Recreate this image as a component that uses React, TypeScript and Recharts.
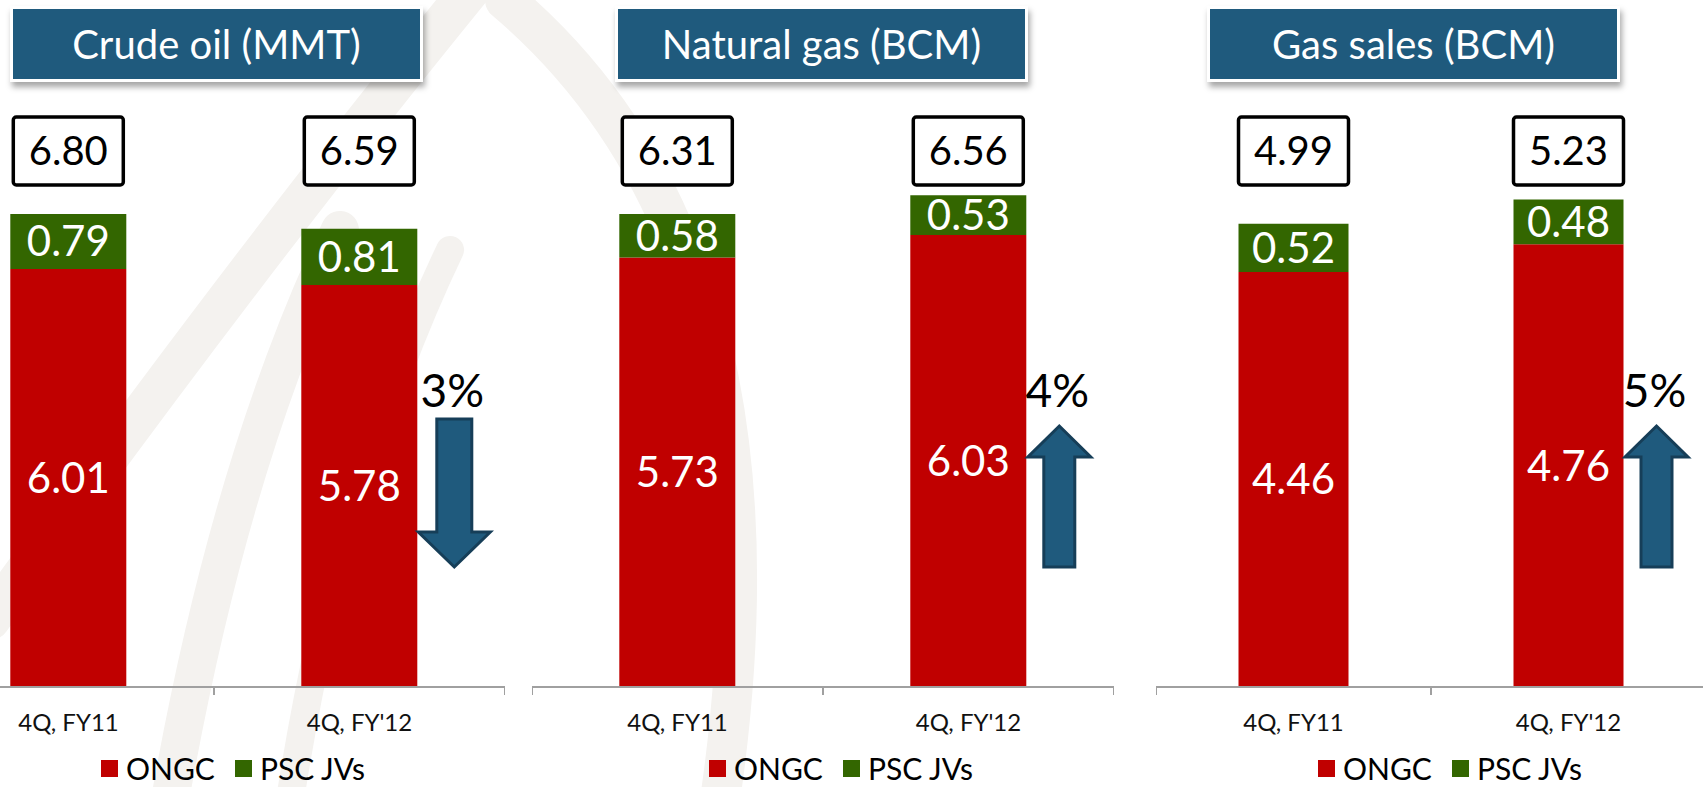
import { BarChart, Bar, XAxis, YAxis, LabelList } from 'recharts'

// ─── data ───────────────────────────────────────────────
const categories = ['4Q, FY11', "4Q, FY'12"]
const panelTitles = ['Crude oil (MMT)', 'Natural gas (BCM)', 'Gas sales (BCM)']
const ongcValues = [
  [6.01, 5.78],
  [5.73, 6.03],
  [4.46, 4.76],
]
const pscValues = [
  [0.79, 0.81],
  [0.58, 0.53],
  [0.52, 0.48],
]
const totalValues = [
  [6.8, 6.59],
  [6.31, 6.56],
  [4.99, 5.23],
]
const changeLabels = ['3%', '4%', '5%']
const changeDirections = ['down', 'up', 'up']
const yMax = [8.44, 7.83, 6.31]
const seriesNames = ['ONGC', 'PSC JVs']

// ─── layout / style ─────────────────────────────────────
const W = 1703
const H = 787
const CHART_TOP = 100
const XAXIS_H = 100
const AXIS_Y = H - XAXIS_H
const RED = '#C00000'
const GREEN = '#336600'
const BLUE = '#1F5A7D'
const FONT = 'Lato, "Open Sans", sans-serif'

const panels = [
  { left: -77, width: 582, titleLeft: 10, legendLeft: 101 },
  { left: 532, width: 582, titleLeft: 615, legendLeft: 709 },
  { left: 1156, width: 550, titleLeft: 1207, legendLeft: 1318 },
]

function BoundaryTick(props: any) {
  const { x, payload, index, band } = props
  const last = index === categories.length - 1
  return (
    <g>
      <line x1={x - band / 2} x2={x - band / 2} y1={AXIS_Y} y2={AXIS_Y + 8} stroke="#a0a0a0" strokeWidth={2} />
      {last && (
        <line x1={x + band / 2} x2={x + band / 2} y1={AXIS_Y} y2={AXIS_Y + 8} stroke="#a0a0a0" strokeWidth={2} />
      )}
      <text x={x} y={AXIS_Y + 44} textAnchor="middle" fontSize={24} fill="#111" fontFamily={FONT}>
        {payload.value}
      </text>
    </g>
  )
}

function getBox(props: any) {
  const vb = props.viewBox && props.viewBox.width !== undefined ? props.viewBox : props
  return { x: Number(vb.x), y: Number(vb.y), width: Number(vb.width), height: Number(vb.height) }
}

function makeTotalBox(p: number) {
  return (props: any) => {
    const { x, width } = getBox(props)
    const cx = x + width / 2
    const total = totalValues[p][props.index]
    return (
      <g key={`tot-${p}-${props.index}`}>
        <rect x={cx - 55} y={117} width={110} height={68} rx={3} fill="#fff" stroke="#000" strokeWidth={3.5} />
        <text x={cx} y={165} textAnchor="middle" fontSize={40} fill="#000" fontFamily={FONT}>
          {total.toFixed(2)}
        </text>
      </g>
    )
  }
}

function makeArrow(p: number) {
  return (props: any) => {
    if (props.index !== 1) return null
    const { x, width } = getBox(props)
    const down = changeDirections[p] === 'down'
    const cx = x + width + (down ? 37 : 33)
    let pts: string
    if (down) {
      const s = 17.5, h = 36
      pts = [
        [cx - s, 419], [cx + s, 419], [cx + s, 532], [cx + h, 532],
        [cx, 567], [cx - h, 532], [cx - s, 532],
      ].map((q) => q.join(',')).join(' ')
    } else {
      const s = 15.5, h = 31.5
      pts = [
        [cx, 426], [cx + h, 457], [cx + s, 457], [cx + s, 567],
        [cx - s, 567], [cx - s, 457], [cx - h, 457],
      ].map((q) => q.join(',')).join(' ')
    }
    return (
      <g key={`arrow-${p}`}>
        <text x={cx - 2} y={407} textAnchor="middle" fontSize={46} fill="#000" fontFamily={FONT}>
          {changeLabels[p]}
        </text>
        <polygon points={pts} fill={BLUE} stroke="#163E58" strokeWidth={3} strokeLinejoin="miter" />
      </g>
    )
  }
}

function Panel({ p }: { p: number }) {
  const cfg = panels[p]
  const band = cfg.width / categories.length
  const data = categories.map((c, i) => ({
    cat: c,
    ongc: ongcValues[p][i],
    psc: pscValues[p][i],
  }))
  return (
    <div style={{ position: 'absolute', left: cfg.left, top: 0 }}>
      <BarChart
        width={cfg.width}
        height={H}
        data={data}
        margin={{ top: CHART_TOP, right: 0, bottom: 0, left: 0 }}
        barCategoryGap="30%"
      >
        <YAxis hide domain={[0, yMax[p]]} />
        <XAxis
          dataKey="cat"
          height={XAXIS_H}
          axisLine={{ stroke: '#a0a0a0', strokeWidth: 2 }}
          tickLine={false}
          interval={0}
          tick={(t: any) => <BoundaryTick {...t} band={band} />}
        />
        <Bar dataKey="ongc" name={seriesNames[0]} stackId="s" fill={RED} isAnimationActive={false}>
          <LabelList
            dataKey="ongc"
            position="center"
            fill="#fff"
            fontSize={42}
            fontFamily={FONT}
            formatter={(v: any) => Number(v).toFixed(2)}
          />
          <LabelList dataKey="ongc" content={makeArrow(p)} />
        </Bar>
        <Bar dataKey="psc" name={seriesNames[1]} stackId="s" fill={GREEN} isAnimationActive={false}>
          <LabelList
            dataKey="psc"
            position="center"
            fill="#fff"
            fontSize={42}
            fontFamily={FONT}
            formatter={(v: any) => Number(v).toFixed(2)}
          />
          <LabelList dataKey="psc" content={makeTotalBox(p)} />
        </Bar>
      </BarChart>
    </div>
  )
}

function Title({ p }: { p: number }) {
  return (
    <div
      style={{
        position: 'absolute',
        left: panels[p].titleLeft,
        top: 6,
        width: 413,
        height: 76,
        boxSizing: 'border-box',
        background: BLUE,
        border: '3px solid #fff',
        boxShadow: '2px 5px 6px rgba(0,0,0,0.35)',
        color: '#fff',
        fontSize: 40,
        fontFamily: FONT,
        display: 'flex',
        alignItems: 'center',
        justifyContent: 'center',
      }}
    >
      {panelTitles[p]}
    </div>
  )
}

function LegendRow({ p }: { p: number }) {
  const colors = [RED, GREEN]
  return (
    <div
      style={{
        position: 'absolute',
        left: panels[p].legendLeft,
        top: 753,
        height: 30,
        lineHeight: '30px',
        display: 'flex',
        alignItems: 'center',
        fontFamily: FONT,
        fontSize: 30,
        color: '#000',
        whiteSpace: 'nowrap',
      }}
    >
      {seriesNames.map((n, i) => (
        <span key={n} style={{ display: 'flex', alignItems: 'center', marginRight: 20, height: 30 }}>
          <span style={{ width: 17, height: 17, background: colors[i], marginRight: 8, display: 'inline-block' }} />
          {n}
        </span>
      ))}
    </div>
  )
}

function Watermark() {
  return (
    <svg width={W} height={H} style={{ position: 'absolute', left: 0, top: 0 }}>
      <g fill="none" stroke="#f4f2ef" strokeLinecap="round">
        <path d="M 470 -10 Q 250 260 -10 620" strokeWidth={40} />
        <path d="M 340 230 Q 230 460 170 800" strokeWidth={38} />
        <path d="M 450 250 Q 340 480 290 800" strokeWidth={28} />
        <path d="M 505 0 Q 800 250 720 800" strokeWidth={40} />
      </g>
    </svg>
  )
}

export default function App() {
  return (
    <div
      style={{
        position: 'absolute',
        left: 0,
        top: 0,
        width: W,
        height: H,
        overflow: 'hidden',
        background: '#fff',
        fontFamily: FONT,
      }}
    >
      <Watermark />
      {panels.map((_, p) => (
        <Panel key={`panel-${p}`} p={p} />
      ))}
      {panels.map((_, p) => (
        <Title key={`title-${p}`} p={p} />
      ))}
      {panels.map((_, p) => (
        <LegendRow key={`legend-${p}`} p={p} />
      ))}
    </div>
  )
}
